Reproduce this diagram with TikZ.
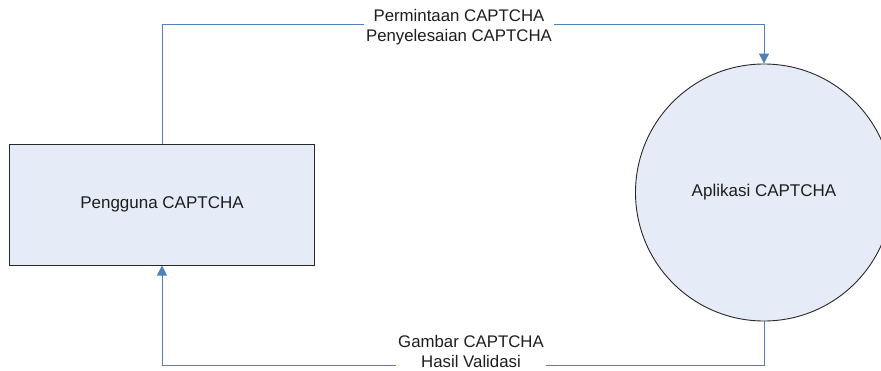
\documentclass[tikz,border=0pt]{standalone}
\usepackage{fontspec}
\setmainfont{Liberation Sans}
\usetikzlibrary{arrows.meta}
\definecolor{flowblue}{RGB}{79,129,189}
\definecolor{shapefill}{RGB}{230,236,247}
\definecolor{shapeedge}{RGB}{40,40,40}
\definecolor{labeltext}{RGB}{30,30,30}
\tikzset{
  entitybox/.style={draw=shapeedge, line width=1pt, fill=shapefill, rectangle,
    minimum width=304.5pt, minimum height=121pt, inner sep=0pt,
    font=\fontsize{17}{20}\selectfont, text=labeltext},
  processcircle/.style={draw=shapeedge, line width=0.9pt, fill=shapefill, circle,
    minimum size=257pt, inner sep=0pt,
    font=\fontsize{17}{20}\selectfont, text=labeltext},
  flow/.style={draw=flowblue, line width=1pt,
    -{Triangle[width=10pt,length=10pt]}},
  flowlabel/.style={fill=white, inner xsep=2pt, inner ysep=0pt, align=center,
    font=\fontsize{16.8}{19.5}\selectfont, text=labeltext}
}
\begin{document}
\begin{tikzpicture}[x=1pt,y=-1pt]
  \clip (0,0) rectangle (881,370);
  \fill[white] (0,0) rectangle (881,370);

  % external entity and process
  \node[entitybox] (user) at (162,204.5) {Pengguna CAPTCHA};
  \node[processcircle] (app) at (764,192.5) {Aplikasi CAPTCHA};

  % bend points of the two data flows
  \coordinate (topturn) at (764,24);
  \coordinate (botturn) at (764,365);

  % user -> application
  \draw[flow] (user.north) |- (topturn) -- (app.north);
  % application -> user
  \draw[flow] (app.south) -- (botturn) -| (user.south);

  % flow labels
  \node[flowlabel] (reqlabel) at (459,27) {Permintaan CAPTCHA\\Penyelesaian CAPTCHA};
  \node[flowlabel] (resplabel) at (471,351.5) {Gambar CAPTCHA\\Hasil Validasi};
\end{tikzpicture}
\end{document}
